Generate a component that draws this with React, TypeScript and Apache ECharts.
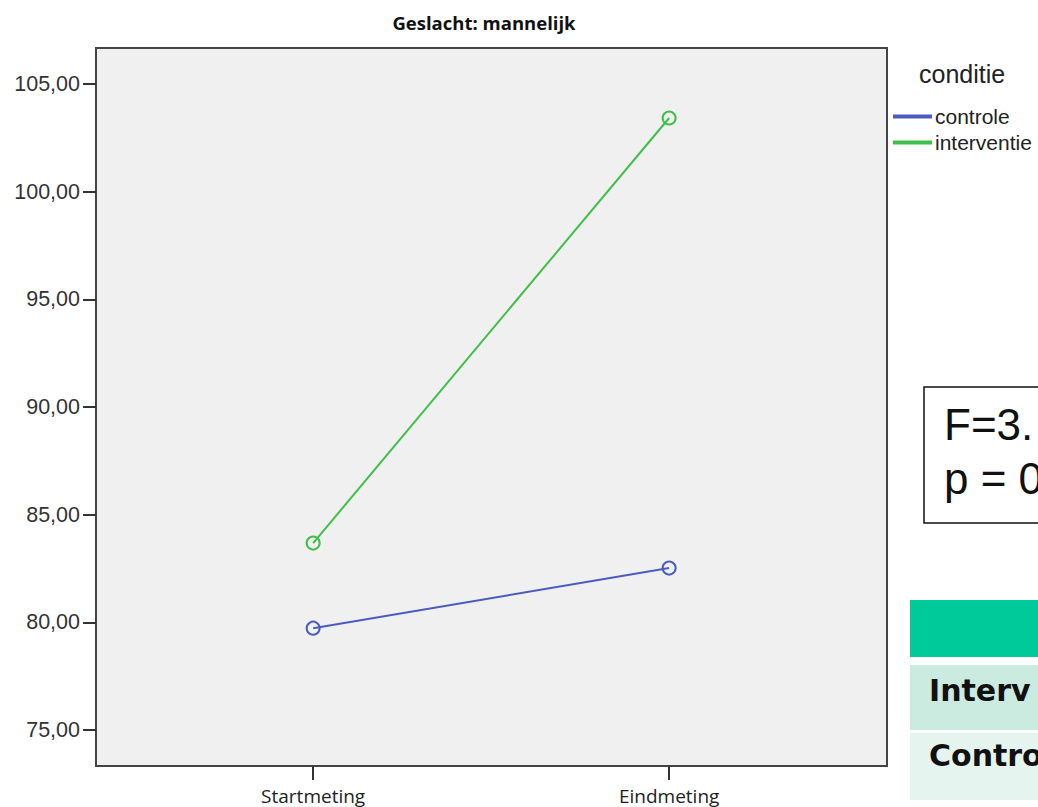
import React, { useEffect, useRef } from "react";
import * as echarts from "echarts";

const categories = ["Startmeting", "Eindmeting"];
const controle = [79.73, 82.52];
const interventie = [83.68, 103.42];
const yTicks = [75, 80, 85, 90, 95, 100, 105];
const tableRows = ["Interv", "Contro"];
const statLines = ["F=3.", "p = 0"];

export default function App() {
  const ref = useRef<HTMLDivElement>(null);
  useEffect(() => {
    const chart = echarts.init(ref.current!, null, { renderer: "svg" });
    const xs = categories.map((_, i) => i + 1);
    chart.setOption({
      animation: false,
      backgroundColor: "#ffffff",
      title: {
        text: "Geslacht: mannelijk",
        left: 479,
        textAlign: "center",
        top: 8,
        textStyle: { fontFamily: "Open Sans", fontWeight: "bold", fontSize: 18.5, color: "#111" },
      },
      grid: {
        left: 96, top: 48, right: 151, bottom: 41,
        show: true, backgroundColor: "#f0f0f0", borderColor: "#444", borderWidth: 2,
      },
      xAxis: {
        type: "value", min: 0.39, max: 2.612,
        splitLine: { show: false },
        axisLine: { show: true, lineStyle: { color: "#444", width: 2 } },
        axisTick: { show: true, inside: false, customValues: xs, length: 14, lineStyle: { color: "#333", width: 2 } },
        axisLabel: {
          customValues: xs, margin: 20,
          formatter: (v: number) => categories[Math.round(v) - 1] ?? "",
          fontFamily: "Open Sans", fontSize: 19, color: "#222",
        },
      },
      yAxis: {
        type: "value", min: 73.33, max: 106.67,
        splitLine: { show: false },
        axisLine: { show: true, lineStyle: { color: "#444", width: 2 } },
        axisTick: { show: true, inside: false, customValues: yTicks, length: 13, lineStyle: { color: "#333", width: 2 } },
        axisLabel: {
          customValues: yTicks, margin: 16,
          formatter: (v: number) => v.toFixed(2).replace(".", ","),
          fontFamily: "Liberation Sans", fontSize: 21.5, color: "#333",
        },
      },
      legend: {
        orient: "vertical", left: 893, top: 106, padding: 0, itemWidth: 37, itemHeight: 2, itemGap: 5,
        icon: "rect",
        textStyle: { fontFamily: "Liberation Sans", fontSize: 21, color: "#222", padding: [0, 0, 0, -1] },
        data: ["controle", "interventie"],
      },
      series: [
        {
          name: "controle", type: "line",
          data: xs.map((x, i) => [x, controle[i]]),
          symbol: "circle", symbolSize: 13, showSymbol: true,
          lineStyle: { color: "#4a5cbd", width: 2 },
          itemStyle: { color: "rgba(0,0,0,0)", borderColor: "#4a5cbd", borderWidth: 2 },
        },
        {
          name: "interventie", type: "line",
          data: xs.map((x, i) => [x, interventie[i]]),
          symbol: "circle", symbolSize: 13,
          lineStyle: { color: "#3fbf4a", width: 2 },
          itemStyle: { color: "rgba(0,0,0,0)", borderColor: "#3fbf4a", borderWidth: 2 },
        },
      ],
      graphic: [
        { type: "text", left: 919, top: 61, style: { text: "conditie", font: "25px 'Liberation Sans'", fill: "#222" } },
        { type: "rect", shape: { x: 924, y: 387, width: 130, height: 136 }, style: { fill: "#fff", stroke: "#111", lineWidth: 1.5 } },
        { type: "text", x: 944, y: 402, style: { text: statLines[0], font: "44px 'Liberation Sans'", fill: "#111" } },
        { type: "text", x: 944, y: 456, style: { text: statLines[1], font: "44px 'Liberation Sans'", fill: "#111" } },
        { type: "rect", shape: { x: 910, y: 600, width: 140, height: 57 }, style: { fill: "#00c99a" } },
        { type: "rect", shape: { x: 910, y: 665, width: 140, height: 65 }, style: { fill: "#cbeae0" } },
        { type: "rect", shape: { x: 910, y: 733, width: 140, height: 67 }, style: { fill: "#e6f4ef" } },
        { type: "text", x: 929, y: 675, style: { text: tableRows[0], font: "bold 30px 'DejaVu Sans'", fill: "#111" } },
        { type: "text", x: 929, y: 740, style: { text: tableRows[1], font: "bold 30px 'DejaVu Sans'", fill: "#111" } },
      ],
    });
    return () => chart.dispose();
  }, []);
  return <div ref={ref} style={{ width: 1038, height: 807, position: "absolute", left: 0, top: 0 }} />;
}
